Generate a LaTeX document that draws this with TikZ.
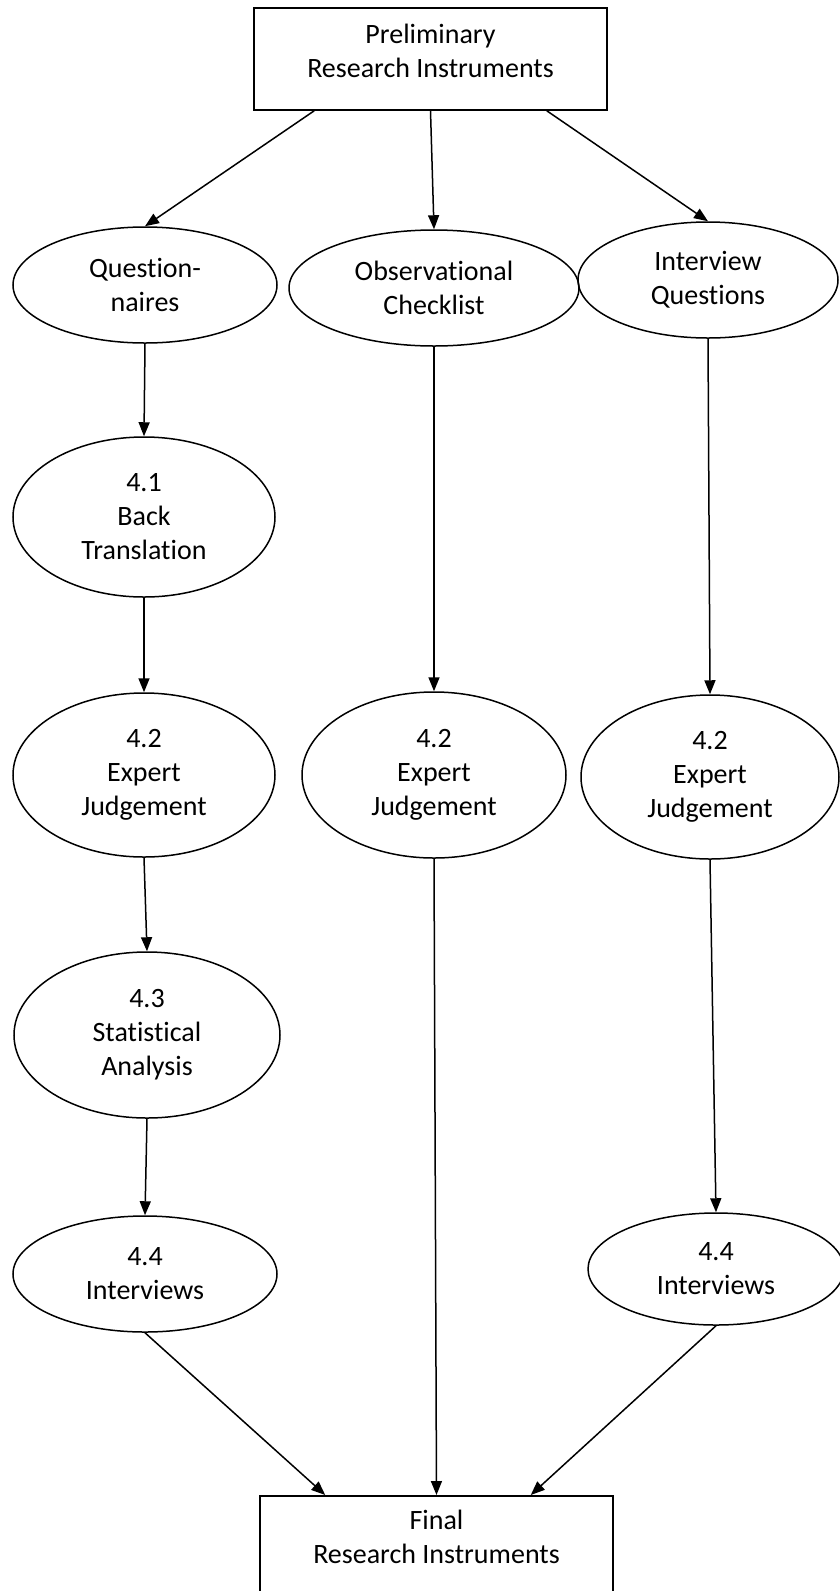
\documentclass[tikz,border=0pt]{standalone}
\usepackage{fontspec}
\setmainfont{Carlito}[Ligatures=NoCommon]
\usetikzlibrary{shapes.geometric,arrows.meta,calc}
\begin{document}
\begin{tikzpicture}[x=1pt,y=-1pt,
  every node/.style={font=\fontsize{28}{34}\selectfont, align=center, line width=1.5pt, draw, inner sep=0pt},
  boxnode/.style={rectangle, minimum width=353pt, minimum height=102pt},
  ell/.style={ellipse},
  arr/.style={line width=1.5pt, -{Triangle[length=14pt,width=11pt]}}]
\useasboundingbox (0,0) rectangle (839,1591);
\node[boxnode] (top) at (430.5,59) {\raisebox{5pt}[\height][\depth]{\begin{tabular}{@{}c@{}}Preliminary\\Research Instruments\end{tabular}}};
\node[ell, minimum width=264pt, minimum height=116pt] (q) at (145,285) {Question-\\naires};
\node[ell, minimum width=290pt, minimum height=116pt] (obs) at (434,288) {Observational\\Checklist};
\node[ell, minimum width=260pt, minimum height=116pt] (int) at (708,280) {Interview\\Questions};
\node[ell, minimum width=262pt, minimum height=160pt] (bt) at (144,517) {4.1\\Back\\Translation};
\node[ell, minimum width=262pt, minimum height=164pt] (ej1) at (144,775) {4.2\\Expert\\Judgement};
\node[ell, minimum width=264pt, minimum height=166pt] (ej2) at (434,775) {4.2\\Expert\\Judgement};
\node[ell, minimum width=258pt, minimum height=164pt] (ej3) at (710,777) {4.2\\Expert\\Judgement};
\node[ell, minimum width=266pt, minimum height=166pt] (sa) at (147,1035) {4.3\\Statistical\\Analysis};
\node[ell, minimum width=264pt, minimum height=116pt] (iv1) at (145,1274) {4.4\\Interviews};
\node[ell, minimum width=256pt, minimum height=112pt] (iv2) at (716,1269) {4.4\\Interviews};
\node[boxnode, anchor=north] (fin) at (436.5,1495) {\raisebox{7pt}[\height][\depth]{\begin{tabular}{@{}c@{}}Final\\Research Instruments\end{tabular}}};
\draw[arr] ($(top.south west)+(61,0)$) -- (q.north);
\draw[arr] (top.south) -- (obs.north);
\draw[arr] ($(top.south east)+(-61,0)$) -- (int.north);
\draw[arr] (q.south) -- (bt.north);
\draw[arr] (bt.south) -- (ej1.north);
\draw[arr] (ej1.south) -- (sa.north);
\draw[arr] (sa.south) -- (iv1.north);
\draw[arr] (obs.south) -- (ej2.north);
\draw[arr] (ej2.south) -- (fin.north);
\draw[arr] (int.south) -- (ej3.north);
\draw[arr] (ej3.south) -- (iv2.north);
\draw[arr] (iv1.south) -- ($(fin.north west)+(66,0)$);
\draw[arr] (iv2.south) -- ($(fin.north east)+(-83,0)$);
\end{tikzpicture}
\end{document}
